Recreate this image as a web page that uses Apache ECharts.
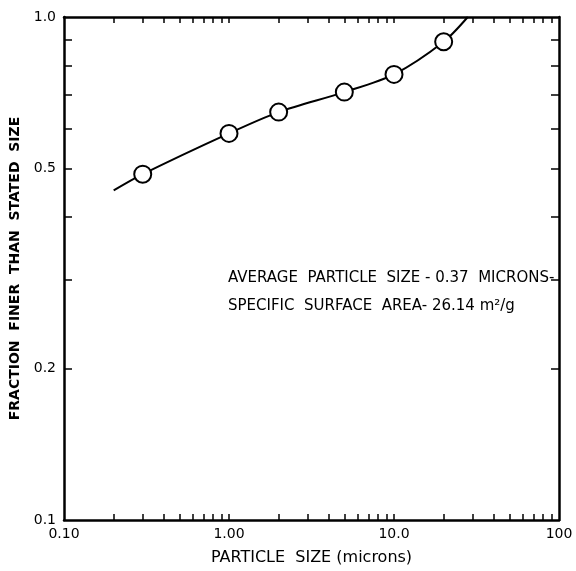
<!DOCTYPE html>
<html>
<head>
<meta charset="utf-8">
<script src="https://cdn.jsdelivr.net/npm/echarts@6/dist/echarts.min.js"></script>
<style>
  html, body { margin: 0; padding: 0; background: #fff; }
  #chart { width: 576px; height: 571px; }
</style>
</head>
<body>
<div id="chart"></div>
<script>
// measured points (circles)
const particleSize = [0.3, 1.0, 2.0, 5.0, 10.0, 20.0];
const fractionFiner = [0.487, 0.587, 0.647, 0.709, 0.769, 0.893];
// hand drawn curve through the points
const curveSize = [0.2, 0.3, 1.0, 2.0, 5.0, 10.0, 20.0, 28.0];
const curveFraction = [0.452, 0.487, 0.587, 0.647, 0.709, 0.769, 0.893, 1.0];

// ticks and labels
const xTicks = [0.2, 0.3, 0.4, 0.5, 0.6, 0.7, 0.8, 0.9, 1, 2, 3, 4, 5, 6, 7, 8, 9, 10, 20, 30, 40, 50, 60, 70, 80, 90];
const xLabelValues = [0.1, 1, 10, 100];
const xLabelText = ['0.10', '1.00', '10.0', '100'];
const yTicks = [0.2, 0.3, 0.4, 0.5, 0.6, 0.7, 0.8, 0.9];
const yLabelValues = [0.1, 0.2, 0.5, 1.0];
const yLabelText = ['0.1', '0.2', '0.5', '1.0'];

const noteLines = [
  'AVERAGE  PARTICLE  SIZE - 0.37  MICRONS-',
  'SPECIFIC  SURFACE  AREA- 26.14 m²/g'
];

const font = '"DejaVu Sans", "Liberation Sans", sans-serif';

function pickLabel(values, texts) {
  return function (v) {
    for (let i = 0; i < values.length; i++) {
      if (Math.abs(Math.log10(v) - Math.log10(values[i])) < 0.001) return texts[i];
    }
    return '';
  };
}

function xAxisOf(pos, showLabel) {
  return {
    type: 'log',
    logBase: 10,
    min: 0.1,
    max: 100,
    position: pos,
    name: showLabel ? 'PARTICLE  SIZE (microns)' : '',
    nameLocation: 'middle',
    nameGap: 30,
    nameTextStyle: { color: '#000', fontFamily: font, fontSize: 16, padding: [0, 0, 0, 0] },
    axisLine: { show: true, onZero: false, lineStyle: { color: '#000', width: 2.5 } },
    axisTick: { show: true, inside: true, length: 6, customValues: xTicks, lineStyle: { color: '#000', width: 1.5 } },
    minorTick: { show: false },
    axisLabel: {
      show: showLabel,
      customValues: xLabelValues,
      formatter: pickLabel(xLabelValues, xLabelText),
      color: '#000',
      fontFamily: font,
      fontSize: 14,
      margin: 7
    },
    splitLine: { show: false }
  };
}

function yAxisOf(pos, showLabel) {
  return {
    type: 'log',
    logBase: 10,
    min: 0.1,
    max: 1.0,
    position: pos,
    name: showLabel ? 'FRACTION  FINER  THAN  STATED  SIZE' : '',
    nameLocation: 'middle',
    nameGap: 41,
    nameRotate: 90,
    nameTextStyle: { color: '#000', fontFamily: font, fontSize: 14, fontWeight: 'bold' },
    axisLine: { show: true, onZero: false, lineStyle: { color: '#000', width: 2.5 } },
    axisTick: { show: true, inside: true, length: 8, customValues: yTicks, lineStyle: { color: '#000', width: 1.5 } },
    minorTick: { show: false },
    axisLabel: {
      show: showLabel,
      customValues: yLabelValues,
      formatter: pickLabel(yLabelValues, yLabelText),
      color: '#000',
      fontFamily: font,
      fontSize: 14,
      margin: 8
    },
    splitLine: { show: false }
  };
}

const chart = echarts.init(document.getElementById('chart'), null, { renderer: 'canvas' });

const option = {
  backgroundColor: '#fff',
  animation: false,
  grid: { left: 64, right: 17, top: 17, bottom: 47, containLabel: false },
  xAxis: [xAxisOf('bottom', true), xAxisOf('top', false)],
  yAxis: [yAxisOf('left', true), yAxisOf('right', false)],
  graphic: [
    {
      type: 'text',
      left: 228,
      top: 271,
      style: { text: noteLines[0], fill: '#000', font: '15px ' + font }
    },
    {
      type: 'text',
      left: 228,
      top: 299,
      style: { text: noteLines[1], fill: '#000', font: '15px ' + font }
    }
  ],
  series: [
    {
      type: 'line',
      data: curveSize.map((x, i) => [x, curveFraction[i]]),
      smooth: 0.3,
      showSymbol: false,
      lineStyle: { color: '#000', width: 2 },
      z: 2
    },
    {
      type: 'scatter',
      data: particleSize.map((x, i) => [x, fractionFiner[i]]),
      symbol: 'circle',
      symbolSize: 17,
      itemStyle: { color: '#fff', borderColor: '#000', borderWidth: 2, opacity: 1 },
      z: 3
    }
  ]
};

chart.setOption(option);
</script>
</body>
</html>
